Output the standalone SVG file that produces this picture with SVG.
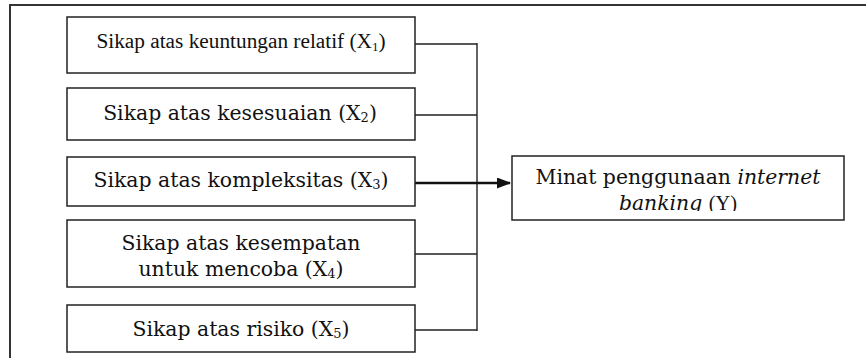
<svg xmlns="http://www.w3.org/2000/svg" width="866" height="358" viewBox="0 0 866 358">
<style>
.box{fill:#fff;stroke:#222;stroke-width:1.5}
.bk{font-family:"DejaVu Serif","Liberation Serif",serif;font-size:20.4px;fill:#111;text-anchor:middle}
.tm{font-family:"Liberation Serif",serif;font-size:21.3px;fill:#111;text-anchor:middle}
.sub{font-size:13px}
.ln{fill:none;stroke:#222;stroke-width:1.4}
</style>
<defs>
<marker id="ah" markerWidth="14" markerHeight="11" refX="13" refY="5.5" orient="auto" markerUnits="userSpaceOnUse">
<path d="M0,0 L14,5.5 L0,11 Z" fill="#111"/>
</marker>
<clipPath id="yc"><rect x="512" y="156" width="332" height="55"/></clipPath>
</defs>
<rect x="0" y="0" width="866" height="358" fill="#fff"/>
<g id="frame"><path d="M10,358 V5 H866" fill="none" stroke="#333" stroke-width="2"/></g>
<g id="connectors">
<path class="ln" d="M415,44 H477 M415,115 H477 M415,254 H477 M415,330 H477 M477,43 V331"/>
<path d="M413,183 H510" fill="none" stroke="#111" stroke-width="2.6" marker-end="url(#ah)"/>
</g>
<g id="x1"><rect class="box" x="67" y="17" width="348" height="56"/>
<text class="tm" x="241" y="48">Sikap atas keuntungan relatif (X<tspan class="sub" dy="3">1</tspan><tspan dy="-3">)</tspan></text></g>
<g id="x2"><rect class="box" x="67" y="88" width="348" height="52"/>
<text class="bk" x="240" y="120">Sikap atas kesesuaian (X<tspan class="sub" dy="2">2</tspan><tspan dy="-2">)</tspan></text></g>
<g id="x3"><rect class="box" x="67" y="157" width="348" height="49"/>
<text class="bk" x="241" y="187">Sikap atas kompleksitas (X<tspan class="sub" dy="2">3</tspan><tspan dy="-2">)</tspan></text></g>
<g id="x4"><rect class="box" x="67" y="220" width="348" height="67"/>
<text class="bk" x="241" y="250">Sikap atas kesempatan</text>
<text class="bk" x="241" y="276">untuk mencoba (X<tspan class="sub" dy="2">4</tspan><tspan dy="-2">)</tspan></text></g>
<g id="x5"><rect class="box" x="67" y="305" width="348" height="47"/>
<text class="bk" x="241" y="336">Sikap atas risiko (X<tspan class="sub" dy="2">5</tspan><tspan dy="-2">)</tspan></text></g>
<g id="y"><rect class="box" x="512" y="156" width="332" height="64"/>
<g clip-path="url(#yc)">
<text class="bk" x="678" y="184">Minat penggunaan <tspan font-style="italic">internet</tspan></text>
<text class="bk" x="678" y="210"><tspan font-style="italic">banking</tspan> <tspan font-family="Liberation Serif">(Y)</tspan></text>
</g></g>
</svg>
